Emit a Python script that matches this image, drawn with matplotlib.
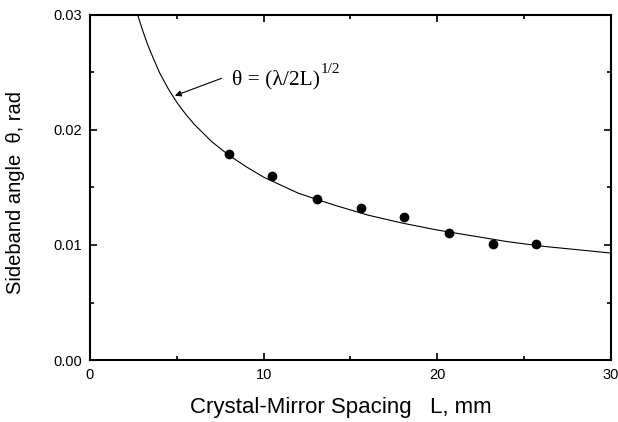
import matplotlib.pyplot as plt
from matplotlib.ticker import MultipleLocator

# measured points
spacing_mm = [8.0, 10.5, 13.1, 15.6, 18.1, 20.7, 23.2, 25.7]
angle_rad = [0.0179, 0.0160, 0.0140, 0.0132, 0.0124, 0.0110, 0.0101, 0.0101]

# theory curve theta = (lambda/2L)^1/2
curve_L = [2.75, 3.0, 3.3, 3.6, 4.0, 4.5, 5.0, 5.5, 6.0, 7.0, 8.0, 9.0, 10, 11,
           12, 14, 16, 18, 20, 22, 24, 26, 28, 30]
curve_theta = [0.0300, 0.0288, 0.0275, 0.0264, 0.0250, 0.0236, 0.0224, 0.0214,
               0.0205, 0.0190, 0.0178, 0.0168, 0.0159, 0.0152, 0.0145, 0.0135,
               0.0126, 0.0119, 0.0113, 0.0108, 0.0103, 0.0099, 0.0096, 0.0093]

plt.rcParams['font.family'] = ['Liberation Sans', 'DejaVu Sans']

fig = plt.figure(figsize=(6.18, 4.22), dpi=100)
ax = fig.add_axes([0.1456, 0.1469, 0.8431, 0.8176])

ax.plot(curve_L, curve_theta, color='black', lw=0.8)
ax.plot(spacing_mm, angle_rad, 'o', color='black', ms=6)

ax.set_xlim(0, 30)
ax.set_ylim(0, 0.03)
ax.xaxis.set_major_locator(MultipleLocator(10))
ax.xaxis.set_minor_locator(MultipleLocator(5))
ax.yaxis.set_major_locator(MultipleLocator(0.01))
ax.yaxis.set_minor_locator(MultipleLocator(0.005))
ax.yaxis.set_major_formatter(plt.FormatStrFormatter('%.2f'))
ax.tick_params(which='both', direction='in', top=True, right=True, width=1.2)
ax.tick_params(which='major', length=5, labelsize=10.5, pad=6)
ax.tick_params(which='minor', length=3)
for s in ax.spines.values():
    s.set_linewidth(1.5)

ax.set_xlabel('Crystal-Mirror Spacing   L, mm', fontsize=16)
ax.set_ylabel('Sideband angle  \u03b8, rad', fontsize=14.5)
ax.xaxis.set_label_coords(0.482, -0.108)
ax.yaxis.set_label_coords(-0.125, 0.4855)

# formula label with arrow
ax.annotate('', xy=(4.89, 0.02298), xytext=(7.57, 0.02449),
            arrowprops=dict(arrowstyle='-|>', color='black', lw=0.8,
                            mutation_scale=9, shrinkA=0, shrinkB=0))
ax.text(8.16, 0.02435, '\u03b8 = (\u03bb/2L)', fontsize=15.5,
        family='Liberation Serif', va='center', ha='left')
ax.text(13.28, 0.02526, '1/2', fontsize=11, family='Liberation Serif',
        va='center', ha='left')

fig.savefig('out.png', dpi=100)
